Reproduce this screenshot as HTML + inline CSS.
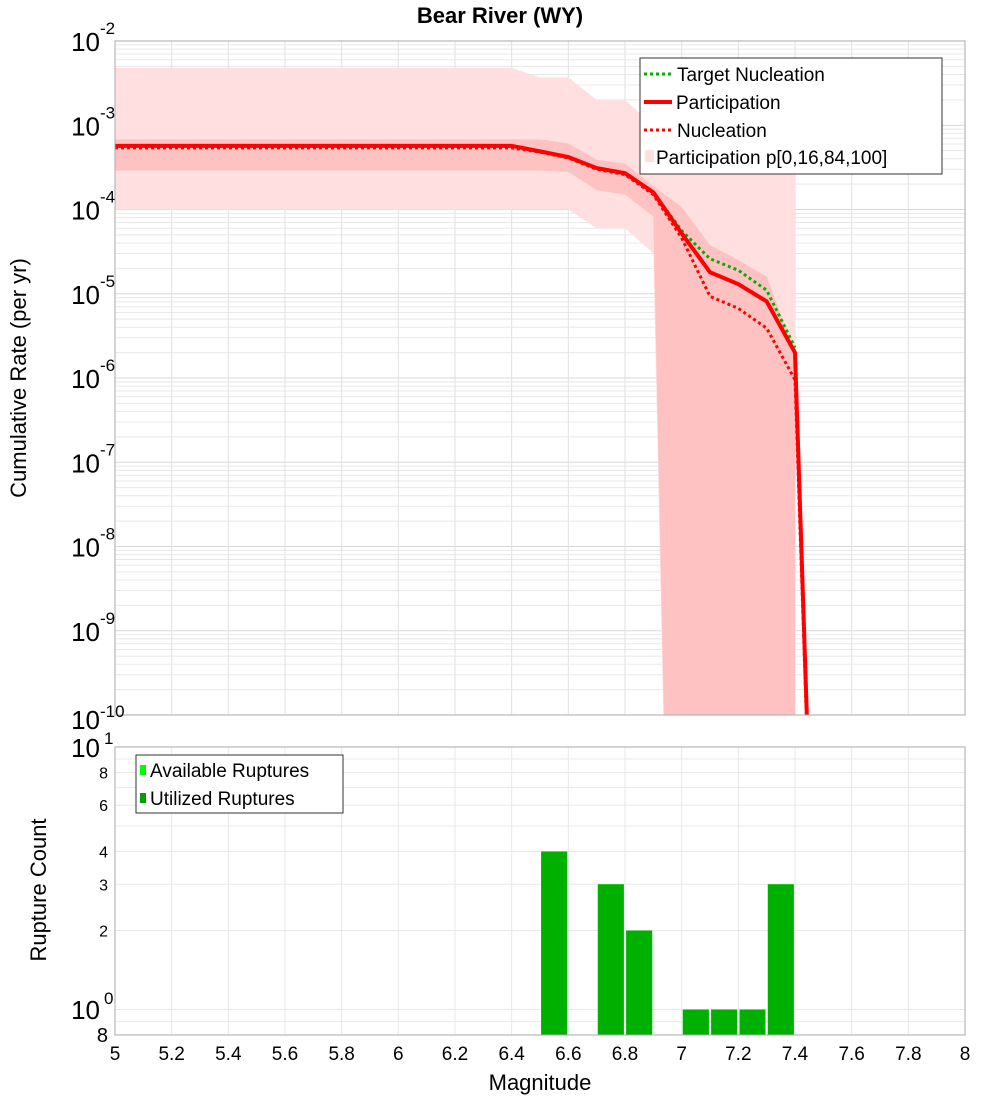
<!DOCTYPE html>
<html><head><meta charset="utf-8"><style>
body{margin:0;background:#fff;}
svg{font-family:"Liberation Sans","DejaVu Sans",sans-serif;}
</style></head><body>
<svg id="c" width="1000" height="1100" xmlns="http://www.w3.org/2000/svg">
<text x="500" y="23" text-anchor="middle" font-size="22" font-weight="bold">Bear River (WY)</text>
<g id="topPlot"></g>
<g id="botPlot"></g>
<text transform="translate(26,378) rotate(-90)" text-anchor="middle" font-size="22">Cumulative Rate (per yr)</text>
<text transform="translate(46,890) rotate(-90)" text-anchor="middle" font-size="22">Rupture Count</text>
<text x="540" y="1090" text-anchor="middle" font-size="22">Magnitude</text>
</svg>
<script>
const mags=[5.0,6.4,6.5,6.6,6.7,6.8,6.9,7.0,7.1,7.2,7.3,7.4,7.5];
const participation=[5.7e-4,5.7e-4,4.9e-4,4.2e-4,3.1e-4,2.7e-4,1.6e-4,5.2e-5,1.8e-5,1.3e-5,8.1e-6,2.0e-6,1e-16];
const nucleation=[5.4e-4,5.4e-4,4.8e-4,4.1e-4,3.0e-4,2.6e-4,1.5e-4,4.6e-5,9.3e-6,6.7e-6,3.9e-6,9.5e-7,1e-16];
const targetNucleation=[5.4e-4,5.4e-4,4.8e-4,4.1e-4,3.0e-4,2.6e-4,1.6e-4,5.6e-5,2.6e-5,1.9e-5,1.1e-5,2.3e-6];
const bandMags=[5.0,6.4,6.5,6.6,6.7,6.8,6.9,7.0,7.1,7.2,7.3,7.4,7.4001];
const p100=[4.8e-3,4.8e-3,3.7e-3,3.7e-3,2.0e-3,2.0e-3,1.0e-3,6.6e-4,6.0e-4,5.5e-4,4.5e-4,3.9e-4,1e-20];
const p84=[6.8e-4,6.8e-4,6.8e-4,6.1e-4,3.9e-4,3.5e-4,1.9e-4,1.07e-4,3.8e-5,2.5e-5,1.6e-5,2.0e-6,1e-20];
const p16=[2.9e-4,2.9e-4,2.9e-4,2.8e-4,1.7e-4,1.5e-4,8.3e-5,1e-20,1e-20,1e-20,1e-20,1e-20,1e-20];
const p0=[1.0e-4,1.0e-4,1.0e-4,1.0e-4,6.0e-5,6.0e-5,3.0e-5,1e-20,1e-20,1e-20,1e-20,1e-20,1e-20];
const barMags=[6.55,6.75,6.85,7.05,7.15,7.25,7.35];
const barCounts=[4,3,2,1,1,1,3];
const xTicks=["5","5.2","5.4","5.6","5.8","6","6.2","6.4","6.6","6.8","7","7.2","7.4","7.6","7.8","8"];

const NS="http://www.w3.org/2000/svg";
const L=115,R=965,T1=41,B1=715,T2=747,B2=1035;
const X=m=>L+(m-5)/3*(R-L);
const Y1=v=>T1+(-2-Math.log10(v))*(B1-T1)/8;
const lo2=Math.log10(0.8),hi2=1;
const Y2=v=>B2-(Math.log10(v)-lo2)/(hi2-lo2)*(B2-T2);
function mk(p,tag,a,txt){const e=document.createElementNS(NS,tag);for(const k in a)e.setAttribute(k,a[k]);if(txt!==undefined)e.textContent=txt;p.appendChild(e);return e;}
const gTop=document.getElementById('topPlot'),gBot=document.getElementById('botPlot');
const svgEl=document.getElementById('c');
const defs=mk(svgEl,'defs',{});
const cp=mk(defs,'clipPath',{id:'clipTop'});mk(cp,'rect',{x:L,y:T1,width:R-L,height:B1-T1});
for(let d=-10;d<-2;d++)for(let k=1;k<10;k++){const y=Y1(k*Math.pow(10,d));const g=mk(gTop,'line',{x1:L,x2:R,y1:y,y2:y,stroke:k==1?'#d8d8d8':'#e8e8e8','stroke-width':1});}
for(let i=0;i<xTicks.length;i++){const x=X(+xTicks[i]);const g=mk(gTop,'line',{x1:x,x2:x,y1:T1,y2:B1,stroke:'#e2e2e2'});}
const pl=mk(gTop,'g',{'clip-path':'url(#clipTop)'});
function band(up,dn,fill,name){let pts=bandMags.map((m,i)=>X(m)+','+Y1(up[i]));for(let i=bandMags.length-1;i>=0;i--)pts.push(X(bandMags[i])+','+Y1(dn[i]));const e=mk(pl,'polygon',{points:pts.join(' '),fill:fill});}
band(p100,p0,'#ffdfe0','band-p0-p100');
band(p84,p16,'#ffc2c3','band-p16-p84');
function line(ms,vs,col,w,dash,name){const e=mk(pl,'polyline',{points:vs.map((v,i)=>X(ms[i])+','+Y1(v)).join(' '),fill:'none',stroke:col,'stroke-width':w,'stroke-dasharray':dash||'none'});}
line(mags,targetNucleation,'#00b000',3,'3,3','target-nucleation-line');
line(mags,nucleation,'#ff0000',3,'3,3','nucleation-line');
line(mags,participation,'#ff0000',4,null,'participation-line');
let fr=mk(gTop,'rect',{x:L,y:T1,width:R-L,height:B1-T1,fill:'none',stroke:'#aaa'});
for(let d=-10;d<=-2;d++){const y=Y1(Math.pow(10,d));const tt=mk(gTop,'text',{x:100,y:y+(d==-10?14:10),'text-anchor':'end','font-size':26});tt.textContent='10';const s=mk(gTop,'text',{x:100,y:y-(d==-10?-2:7),'font-size':17},String(d));}
const lg=mk(gTop,'g',{});
mk(lg,'rect',{x:640,y:58,width:302,height:116,fill:'#fff',stroke:'#333'});
const items=[['Target Nucleation','#00b000','3,3',3],['Participation','#ff0000','none',4],['Nucleation','#ff0000','3,3',3]];
items.forEach((it,i)=>{const y=74+i*28;const l=mk(lg,'line',{x1:644,x2:672,y1:y,y2:y,stroke:it[1],'stroke-width':it[3],'stroke-dasharray':it[2]});const tt=mk(lg,'text',{x:i==1?676:677,y:y+7,'font-size':19},it[0]);});
mk(lg,'rect',{x:645,y:150,width:9,height:12,fill:'#ffdfe0'});
let lt=mk(lg,'text',{x:656,y:164,'font-size':19},'Participation p[0,16,84,100]');
[0.9,1,2,3,4,5,6,7,8,9,10].forEach(v=>{const y=Y2(v);const g=mk(gBot,'line',{x1:L,x2:R,y1:y,y2:y,stroke:'#e8e8e8'});});
xTicks.forEach(s=>{const x=X(+s);const g=mk(gBot,'line',{x1:x,x2:x,y1:T2,y2:B2,stroke:'#e8e8e8'});
const tt=mk(gBot,'text',{x:x,y:1060,'text-anchor':'middle','font-size':19},s);});
barMags.forEach((m,i)=>{const y=Y2(barCounts[i]);const a=mk(gBot,'rect',{x:X(m)-13,y:y,width:26,height:B2-y,fill:'#00ff00'});const b=mk(gBot,'rect',{x:X(m)-13,y:y,width:26,height:B2-y,fill:'#00b000'});});
fr=mk(gBot,'rect',{x:L,y:T2,width:R-L,height:B2-T2,fill:'none',stroke:'#aaa'});
[[8,'8'],[6,'6'],[4,'4'],[3,'3'],[2,'2']].forEach(a=>{const tt=mk(gBot,'text',{x:108,y:Y2(a[0])+6,'text-anchor':'end','font-size':16},a[1]);});
let t1=mk(gBot,'text',{x:100,y:757,'text-anchor':'end','font-size':26},'10');
t1=mk(gBot,'text',{x:104,y:744,'font-size':17},'1');
t1=mk(gBot,'text',{x:100,y:1019,'text-anchor':'end','font-size':26},'10');
t1=mk(gBot,'text',{x:104,y:1004,'font-size':17},'0');
t1=mk(gBot,'text',{x:108,y:1042,'text-anchor':'end','font-size':20},'8');
const bl=mk(gBot,'g',{});
mk(bl,'rect',{x:136,y:755,width:207,height:58,fill:'#fff',stroke:'#333'});
mk(bl,'rect',{x:140,y:765,width:6,height:10,fill:'#00ff00'});
mk(bl,'rect',{x:140,y:793,width:6,height:10,fill:'#00a000'});
t1=mk(bl,'text',{x:150,y:777,'font-size':19},'Available Ruptures');
t1=mk(bl,'text',{x:150,y:805,'font-size':19},'Utilized Ruptures');
</script>
</body></html>
